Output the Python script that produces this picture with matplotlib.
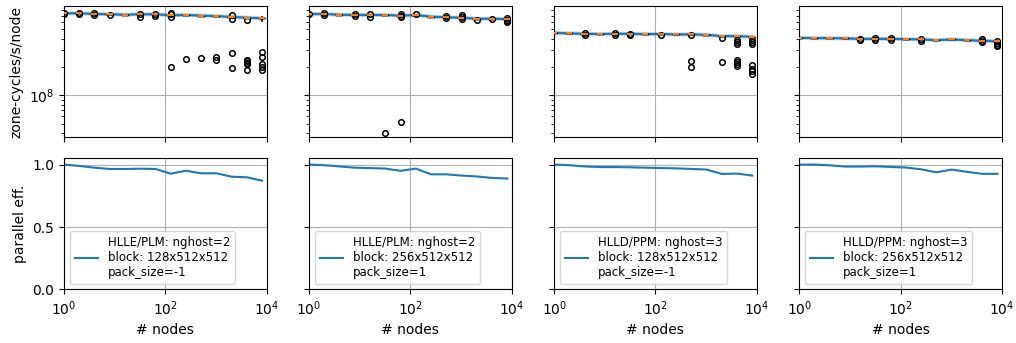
import matplotlib
matplotlib.use("Agg")
import matplotlib.pyplot as plt
from matplotlib.ticker import NullFormatter, NullLocator

# nodes used in the weak scaling runs
NODES = [1, 2, 4, 8, 16, 32, 64, 128, 256, 512, 1024, 2048, 4096, 8192]

LABELS = [
    "HLLE/PLM: nghost=2\nblock: 128x512x512\npack_size=-1",
    "HLLE/PLM: nghost=2\nblock: 256x512x512\npack_size=1",
    "HLLD/PPM: nghost=3\nblock: 128x512x512\npack_size=-1",
    "HLLD/PPM: nghost=3\nblock: 256x512x512\npack_size=1",
]

# median zone-cycles/s/node per run (1e8)
MED_0 = [7.40, 7.40, 7.27, 7.22, 7.15, 7.22, 7.22, 7.05, 7.10, 6.98, 6.92, 6.76, 6.65, 6.55]
MED_1 = [7.27, 7.27, 7.15, 7.10, 7.10, 7.10, 6.98, 7.10, 6.81, 6.71, 6.64, 6.48, 6.48, 6.44]
MED_2 = [4.60, 4.53, 4.49, 4.46, 4.49, 4.49, 4.46, 4.46, 4.42, 4.42, 4.38, 4.24, 4.24, 4.17]
MED_3 = [4.07, 4.04, 4.04, 4.01, 3.97, 3.97, 3.97, 3.94, 3.91, 3.85, 3.91, 3.85, 3.78, 3.75]

# outliers per node count (1e8)
FLIERS_0 = [[7.5, 7.3], [7.5, 7.3], [7.4, 7.1], [7.1], [], [7.3, 6.8], [7.3, 6.9],
            [7.4, 7.2, 6.8, 2.0], [2.4], [2.49], [2.52, 2.36],
            [7.1, 6.4, 2.82, 1.95], [6.3, 2.36, 2.3, 2.22, 2.17, 1.88],
            [2.89, 2.56, 2.17, 2.0, 1.88]]
FLIERS_1 = [[7.35], [7.4, 7.15], [], [7.2, 6.9], [7.3, 6.8], [0.404],
            [7.3, 6.9, 6.7, 0.529], [7.2], [], [6.9, 6.6], [7.1, 6.8, 6.5],
            [6.35], [6.4], [6.6, 6.3, 6.1, 6.0]]
FLIERS_2 = [[], [], [4.55, 4.4], [], [4.55, 4.4], [4.5, 4.4], [], [4.4], [],
            [4.35, 2.3, 2.0], [], [4.05, 2.26],
            [3.9, 3.7, 3.5, 2.36, 2.26, 2.17, 2.05],
            [3.9, 3.7, 3.5, 2.1, 1.92, 1.8, 1.68]]
FLIERS_3 = [[], [], [], [], [4.0, 3.9], [4.1, 3.85], [4.1, 3.9], [], [3.95, 3.8],
            [], [], [], [3.95, 3.75, 3.65], [3.8, 3.6, 3.45, 3.3]]

# whisker overrides (index -> (low, high)), 1e8
WHIS_0 = {13: (6.2, 6.8)}

# parallel efficiency
EFF_0 = [1.0, 0.989, 0.975, 0.965, 0.965, 0.967, 0.965, 0.927, 0.951, 0.930, 0.930, 0.903, 0.898, 0.871]
EFF_1 = [1.0, 0.995, 0.985, 0.975, 0.972, 0.968, 0.950, 0.968, 0.922, 0.922, 0.912, 0.905, 0.893, 0.888]
EFF_2 = [1.0, 0.995, 0.985, 0.980, 0.980, 0.978, 0.975, 0.972, 0.970, 0.965, 0.960, 0.925, 0.928, 0.912]
EFF_3 = [1.0, 1.0, 0.994, 0.984, 0.984, 0.986, 0.981, 0.976, 0.962, 0.938, 0.960, 0.942, 0.926, 0.926]

runs = [
    (MED_0, FLIERS_0, WHIS_0, EFF_0),
    (MED_1, FLIERS_1, {}, EFF_1),
    (MED_2, FLIERS_2, {}, EFF_2),
    (MED_3, FLIERS_3, {}, EFF_3),
]

plt.rcParams.update({"font.size": 10})

fig, axes = plt.subplots(2, 4, figsize=(10.16, 3.43), dpi=100, sharex=True, sharey="row")
fig.subplots_adjust(left=0.063, right=0.986, top=0.982, bottom=0.156, wspace=0.21, hspace=0.16)

for i, (med, fliers, whis, eff) in enumerate(runs):
    ax, bx = axes[0, i], axes[1, i]
    stats = []
    for k, m in enumerate(med):
        lo, hi = whis.get(k, (m, m))
        stats.append({"med": m * 1e8, "q1": m * 1e8, "q3": m * 1e8,
                      "whislo": lo * 1e8, "whishi": hi * 1e8,
                      "fliers": [f * 1e8 for f in fliers[k]]})
    ax.plot(NODES, [m * 1e8 for m in med], color="C0", lw=3.0, alpha=0.25, zorder=2)
    ax.plot(NODES, [m * 1e8 for m in med], color="C0", lw=1.6, zorder=2)
    ax.bxp(stats, positions=NODES, widths=[n * 0.28 for n in NODES],
           showcaps=False, manage_ticks=False,
           medianprops=dict(color="C1", lw=1.5),
           boxprops=dict(lw=1), whiskerprops=dict(lw=1.2),
           flierprops=dict(marker="o", markersize=4, markerfacecolor="none",
                           markeredgecolor="black", markeredgewidth=1.1),
           zorder=3)
    ax.set_yscale("log")
    ax.set_xscale("log")
    ax.grid(True, color="#b0b0b0", lw=0.8)
    ax.set_axisbelow(True)

    bx.plot(NODES, eff, color="C0", lw=1.5, label=LABELS[i])
    bx.grid(True, color="#b0b0b0", lw=0.8)
    bx.legend(loc="lower left", fontsize=8.5)
    bx.set_xlabel("# nodes")

for ax in axes.flat:
    ax.set_xlim(1, 1e4)
    ax.set_xticks([1, 1e2, 1e4])
    ax.xaxis.set_minor_locator(NullLocator())

axes[0, 0].set_ylim(3.6e7, 8.8e8)
axes[0, 0].yaxis.set_minor_formatter(NullFormatter())
axes[0, 0].set_ylabel("zone-cycles/s/node")
axes[1, 0].set_ylim(0, 1.05)
axes[1, 0].set_yticks([0.0, 0.5, 1.0])
axes[1, 0].set_ylabel("parallel eff.")

fig.savefig("out.png", dpi=100, facecolor="white")
plt.close(fig)
